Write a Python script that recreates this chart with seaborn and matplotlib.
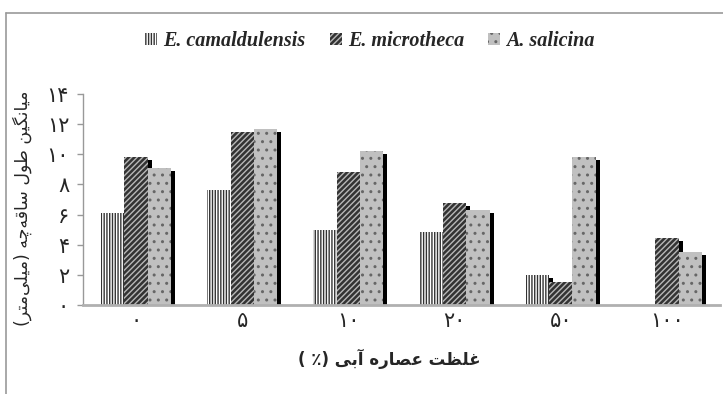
import numpy as np
import pandas as pd
import seaborn as sns
import matplotlib
matplotlib.use("Agg")
import matplotlib.pyplot as plt
from matplotlib.patches import Rectangle
from matplotlib.lines import Line2D
from matplotlib.font_manager import FontProperties
from matplotlib.transforms import ScaledTranslation

# dados
concentracoes = ['۰', '۵', '۱۰', '۲۰', '۵۰', '۱۰۰']
especies = ['E. camaldulensis', 'E. microtheca', 'A. salicina']
camaldulensis = [6.1, 7.6, 5.0, 4.85, 2.0, 0.0]
microtheca = [9.8, 11.45, 8.85, 6.75, 1.5, 4.45]
salicina = [9.1, 11.7, 10.2, 6.3, 9.85, 3.5]
yticks = [0, 2, 4, 6, 8, 10, 12, 14]
ytick_labels = ['۰', '۲', '۴', '۶', '۸', '۱۰', '۱۲', '۱۴']

cores = ['white', '#333333', '#c0c0c0']
cores_hatch = ['#333333', '#b8b8b8', '#666666']
hatches = ['||||||', '//////', '..']

# formas de apresentação (isolada, final, inicial, medial)
FORMAS = {
    'ا': ('\uFE8D', '\uFE8E', None, None),
    'آ': ('\uFE81', '\uFE82', None, None),
    'ب': ('\uFE8F', '\uFE90', '\uFE91', '\uFE92'),
    'ت': ('\uFE95', '\uFE96', '\uFE97', '\uFE98'),
    'چ': ('\uFB7A', '\uFB7B', '\uFB7C', '\uFB7D'),
    'ر': ('\uFEAD', '\uFEAE', None, None),
    'س': ('\uFEB1', '\uFEB2', '\uFEB3', '\uFEB4'),
    'ص': ('\uFEB9', '\uFEBA', '\uFEBB', '\uFEBC'),
    'ط': ('\uFEC1', '\uFEC2', '\uFEC3', '\uFEC4'),
    'ظ': ('\uFEC5', '\uFEC6', '\uFEC7', '\uFEC8'),
    'ع': ('\uFEC9', '\uFECA', '\uFECB', '\uFECC'),
    'غ': ('\uFECD', '\uFECE', '\uFECF', '\uFED0'),
    'ق': ('\uFED5', '\uFED6', '\uFED7', '\uFED8'),
    'گ': ('\uFB92', '\uFB93', '\uFB94', '\uFB95'),
    'ل': ('\uFEDD', '\uFEDE', '\uFEDF', '\uFEE0'),
    'م': ('\uFEE1', '\uFEE2', '\uFEE3', '\uFEE4'),
    'ن': ('\uFEE5', '\uFEE6', '\uFEE7', '\uFEE8'),
    'ه': ('\uFEE9', '\uFEEA', '\uFEEB', '\uFEEC'),
    'و': ('\uFEED', '\uFEEE', None, None),
    'ی': ('\uFBFC', '\uFBFD', '\uFBFE', '\uFBFF'),
}
ESPELHO = {'(': ')', ')': '('}


def persa(texto):
    # junta as letras e inverte para ordem visual (matplotlib não faz RTL)
    saida = []
    for i, ch in enumerate(texto):
        if ch not in FORMAS:
            if ch != '\u200c':
                saida.append(ESPELHO.get(ch, ch))
            continue
        antes = i > 0 and texto[i - 1] in FORMAS and FORMAS[texto[i - 1]][2] is not None
        depois = (i < len(texto) - 1 and texto[i + 1] in FORMAS
                  and FORMAS[ch][2] is not None)
        f = FORMAS[ch]
        if antes and depois:
            saida.append(f[3])
        elif antes:
            saida.append(f[1])
        elif depois:
            saida.append(f[2])
        else:
            saida.append(f[0])
    return ''.join(reversed(saida))


df = pd.DataFrame({
    'conc': concentracoes * 3,
    'especie': np.repeat(especies, len(concentracoes)),
    'valor': camaldulensis + microtheca + salicina,
})

sns.set_theme(style='white')
plt.rcParams['font.family'] = ['DejaVu Sans']
plt.rcParams['hatch.linewidth'] = 1.0

fig = plt.figure(figsize=(7.23, 3.94), dpi=100)
ax = fig.add_axes([83 / 723, 89 / 394, 637 / 723, 211 / 394])

sns.barplot(data=df, x='conc', y='valor', hue='especie', order=concentracoes,
            hue_order=especies, width=0.66, gap=0, errorbar=None, ax=ax,
            legend=False)

# sombra preta atrás das barras
sombra = ax.transData + ScaledTranslation(4 / 100, -3 / 100, fig.dpi_scale_trans)
for k, cont in enumerate(ax.containers):
    for barra in cont:
        barra.set_facecolor(cores[k])
        barra.set_edgecolor(cores_hatch[k])
        barra.set_hatch(hatches[k])
        barra.set_linewidth(0)
        barra.set_zorder(3)
        if barra.get_height() > 0:
            ax.add_patch(Rectangle(barra.get_xy(), barra.get_width(), barra.get_height(),
                                   facecolor='black', edgecolor='none',
                                   transform=sombra, zorder=2))

ax.set_ylim(0, 14)
ax.set_xlim(-0.5, 5.5)
ax.set_yticks(yticks)
ax.set_yticklabels(ytick_labels, fontsize=15)
ax.set_xticklabels(concentracoes, fontsize=15)
ax.tick_params(axis='y', length=4, width=1, color='#999999', pad=6, left=True)
ax.tick_params(axis='x', length=0, pad=4)

for lado in ['top', 'right']:
    ax.spines[lado].set_visible(False)
ax.spines['left'].set_color('#999999')
ax.spines['left'].set_linewidth(1)
ax.spines['bottom'].set_color('#b0b0b0')
ax.spines['bottom'].set_linewidth(2)
ax.spines['bottom'].set_zorder(4)

ax.set_ylabel(persa('میانگین طول ساقه\u200cچه (میلی\u200cمتر)'), fontsize=12.5)
ax.yaxis.set_label_coords(-0.08, 0.46)
ax.set_xlabel(persa('غلظت عصاره آبی (٪ )'), fontsize=12, fontweight='bold')
ax.xaxis.set_label_coords((389 - 83) / 637, -0.21)

# legenda no topo
alcas = [Rectangle((0, 0), 1, 1, facecolor=cores[k], edgecolor=cores_hatch[k],
                   hatch=hatches[k], linewidth=0) for k in range(3)]
fonte_leg = FontProperties(family='Liberation Serif', weight='bold', style='italic', size=14.5)
fig.legend(alcas, especies, loc='center', bbox_to_anchor=(370 / 723, 1 - 41 / 394),
           ncol=3, frameon=False, prop=fonte_leg, handlelength=0.6, handleheight=0.6,
           handletextpad=0.3, columnspacing=1.2)

# moldura cinza (só topo e esquerda aparecem)
fig.add_artist(Line2D([6 / 723, 1], [1 - 13 / 394, 1 - 13 / 394], color='#999999',
                      linewidth=1.2, transform=fig.transFigure))
fig.add_artist(Line2D([6 / 723, 6 / 723], [0, 1 - 13 / 394], color='#999999',
                      linewidth=1.2, transform=fig.transFigure))

fig.savefig('out.png', dpi=100)
